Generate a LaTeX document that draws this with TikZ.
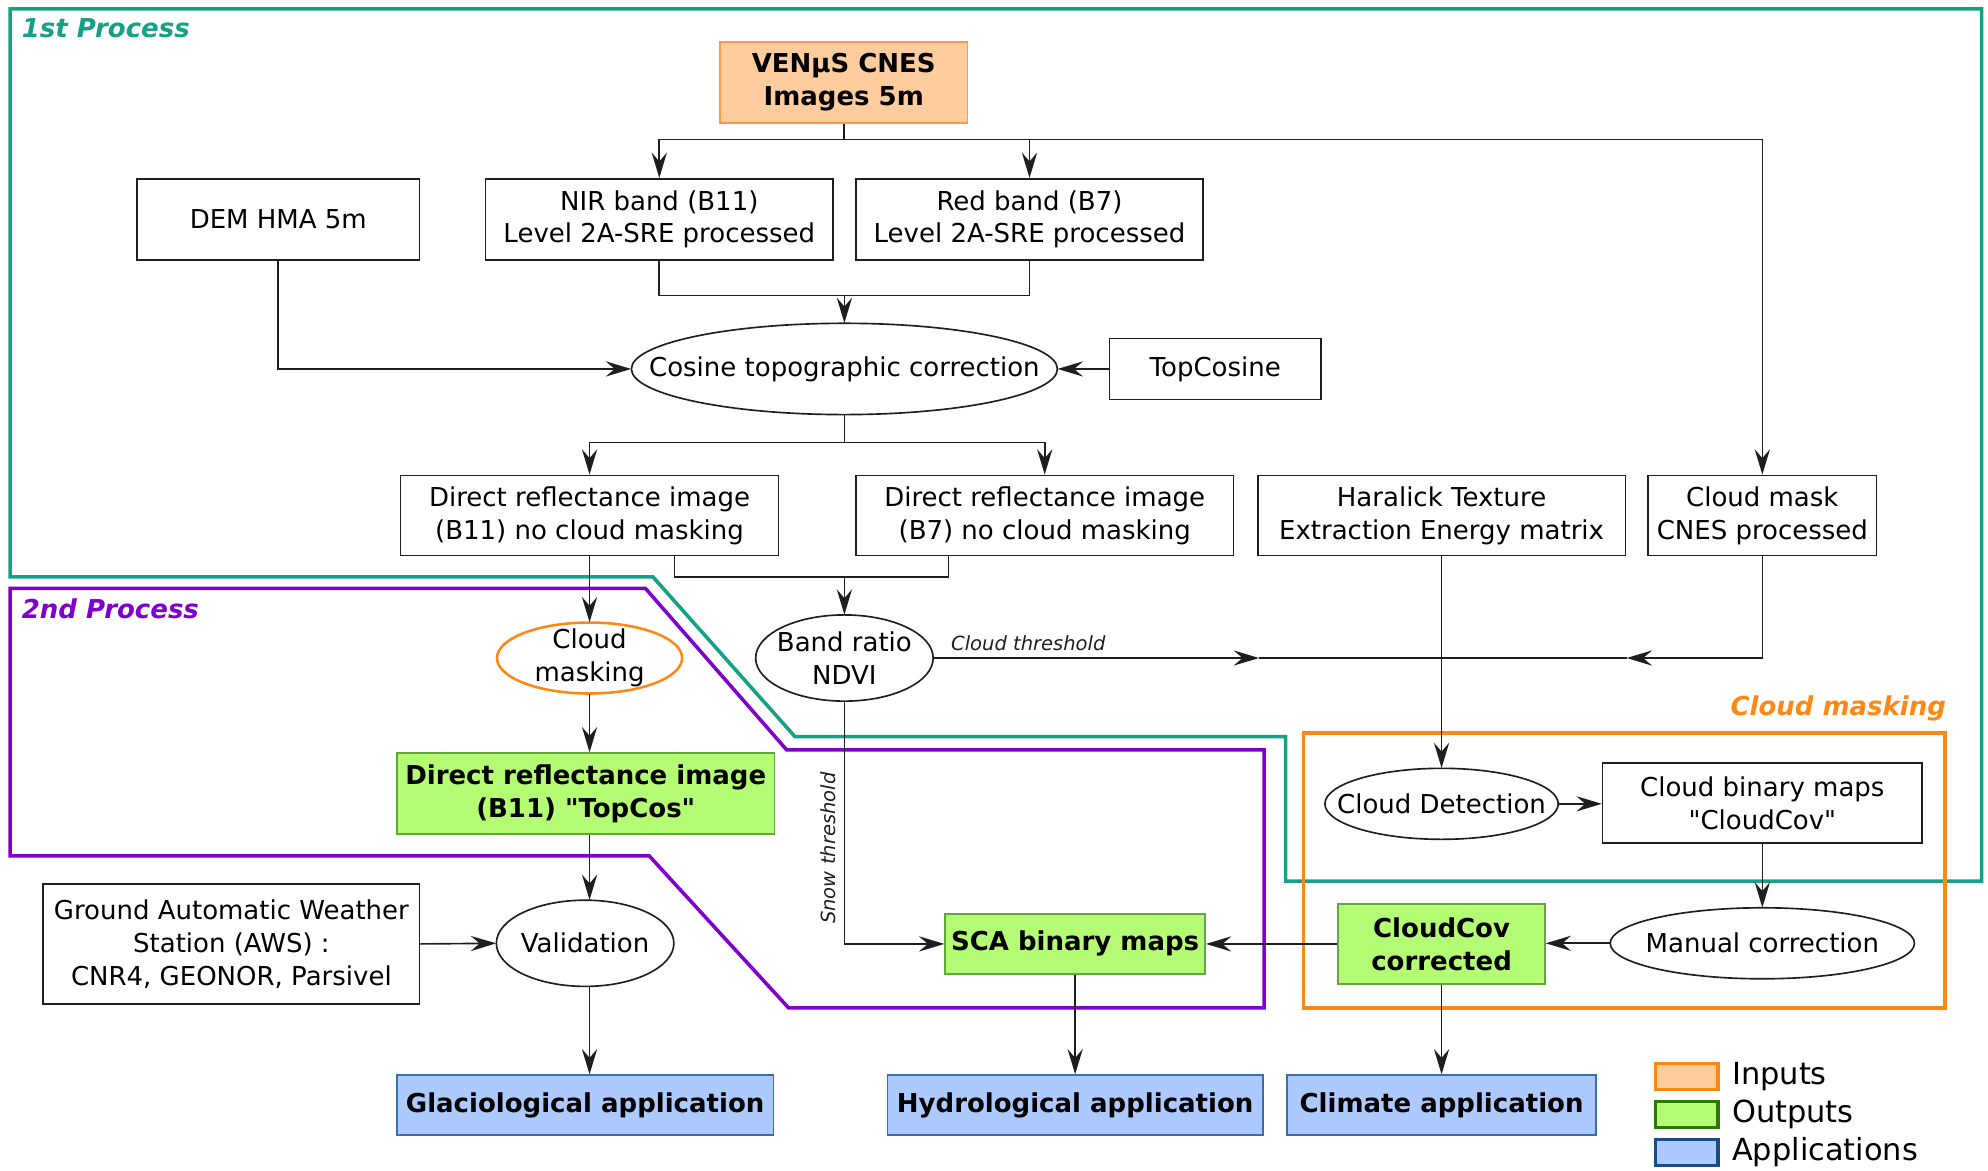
\documentclass[tikz,border=0pt]{standalone}
\usepackage{fontspec}
\setmainfont{DejaVu Sans}
\usetikzlibrary{arrows.meta}
\definecolor{teal1}{RGB}{22,160,133}
\definecolor{purp}{RGB}{127,0,204}
\definecolor{orng}{RGB}{255,136,20}
\definecolor{peach}{RGB}{255,204,158}
\definecolor{peachb}{RGB}{255,150,80}
\definecolor{grn}{RGB}{180,252,115}
\definecolor{grnb}{RGB}{100,165,60}
\definecolor{grnleg}{RGB}{45,120,0}
\definecolor{blu}{RGB}{172,202,255}
\definecolor{blub}{RGB}{60,110,170}
\definecolor{bluleg}{RGB}{25,75,135}
\definecolor{lineg}{RGB}{30,30,30}
% ellipse node: name, centre, x radius, y radius, extra style, text
\newcommand\ellnode[6]{%
  \draw[ellshape,#5] (#2) ellipse [x radius=#3pt, y radius=#4pt];
  \node[elltext, minimum width=2*#3, minimum height=2*#4] (#1) at (#2) {#6};}
\begin{document}
\begin{tikzpicture}[x=1pt,y=-1pt,
  font=\fontsize{20.5}{26}\selectfont,
  box/.style={draw=lineg, fill=white, line width=1.3pt, rectangle, align=center, inner sep=0pt},
  ellshape/.style={draw=lineg, fill=white, line width=1.3pt},
  elltext/.style={rectangle, align=center, inner sep=0pt},
  inbox/.style={box, draw=peachb, fill=peach, font=\fontsize{20.5}{26}\selectfont\bfseries},
  outbox/.style={box, draw=grnb, fill=grn, font=\fontsize{20.5}{26}\selectfont\bfseries},
  appbox/.style={box, draw=blub, fill=blu, font=\fontsize{20.5}{26}\selectfont\bfseries},
  arr/.style={draw=lineg, line width=1.3pt, -{Stealth[length=20pt,width=12pt,inset=7pt]}},
  ln/.style={draw=lineg, line width=1.3pt},
  frame/.style={line width=2.8pt, line join=miter},
  flabel/.style={font=\fontsize{20.5}{26}\selectfont\bfseries\itshape, inner sep=0pt},
  thr/.style={font=\fontsize{15.4}{18}\selectfont\itshape, text=lineg, inner sep=0pt},
  legsq/.style={rectangle, line width=2.5pt, minimum width=49pt, minimum height=20pt, inner sep=0pt},
  legtx/.style={font=\fontsize{24}{30}\selectfont, anchor=west, inner sep=0pt}
]
\useasboundingbox (0,0) rectangle (1568,923);

% frames
\draw[frame, teal1] (8,7) -- (1563,7) -- (1563,695) -- (1014,695) -- (1014,581) -- (627,581) -- (515,455) -- (8,455) -- cycle;
\draw[frame, purp] (8,464) -- (509,464) -- (620.5,591.5) -- (997,591.5) -- (997,795) -- (622,795) -- (512,675) -- (8,675) -- cycle;
\draw[frame, orng] (1028,578) rectangle (1534,795);
\node[flabel, text=teal1, anchor=west] (l1) at (17,22) {1st Process};
\node[flabel, text=purp, anchor=west] (l2) at (17,480) {2nd Process};
\node[flabel, text=orng, anchor=east] (l3) at (1535,559) {Cloud masking};

% nodes
\node[inbox, minimum width=195, minimum height=64] (venus) at (665.5,65) {VENµS CNES\\Images 5m};
\node[box, minimum width=223, minimum height=64] (dem) at (219.5,173) {DEM HMA 5m};
\node[box, minimum width=274, minimum height=64] (nir) at (520,173) {NIR band (B11)\\Level 2A-SRE processed};
\node[box, minimum width=274, minimum height=64] (red) at (812,173) {Red band (B7)\\Level 2A-SRE processed};
\ellnode{cos}{666,291}{168}{36}{}{Cosine topographic correction}
\node[box, minimum width=167, minimum height=48] (topc) at (958.5,291) {TopCosine};
\node[box, minimum width=298, minimum height=63] (d11) at (465,406.5) {Direct reflectance image\\(B11) no cloud masking};
\node[box, minimum width=298, minimum height=63] (d7) at (824,406.5) {Direct reflectance image\\(B7) no cloud masking};
\node[box, minimum width=290, minimum height=63] (har) at (1137,406.5) {Haralick Texture\\Extraction Energy matrix};
\node[box, minimum width=180, minimum height=63] (cmask) at (1390,406.5) {Cloud mask\\CNES processed};
\ellnode{cmk}{465,519}{73}{28}{draw=orng, line width=2pt}{Cloud\\masking}
\ellnode{ndvi}{666,519}{70}{34}{}{Band ratio\\NDVI}
\node[outbox, minimum width=298, minimum height=64] (topcos) at (462,626) {Direct reflectance image\\(B11) \textquotedbl TopCos\textquotedbl};
\node[box, minimum width=297, minimum height=95] (aws) at (182.5,744.5) {Ground Automatic Weather\\Station (AWS) :\\CNR4, GEONOR, Parsivel};
\ellnode{valid}{461.5,744}{70}{34}{}{Validation}
\node[outbox, minimum width=205, minimum height=47] (sca) at (848,744.5) {SCA binary maps};
\node[outbox, minimum width=163, minimum height=63] (ccov) at (1137,744.5) {CloudCov\\corrected};
\ellnode{man}{1390,744}{120}{28}{}{Manual correction}
\ellnode{cdet}{1137,634}{92}{28}{}{Cloud Detection}
\node[box, minimum width=252, minimum height=63] (cbin) at (1390,633.5) {Cloud binary maps\\\textquotedbl CloudCov\textquotedbl};
\node[appbox, minimum width=297, minimum height=47] (glac) at (461.5,871.5) {Glaciological application};
\node[appbox, minimum width=296, minimum height=47] (hyd) at (848,871.5) {Hydrological application};
\node[appbox, minimum width=244, minimum height=47] (clim) at (1137,871.5) {Climate application};

% legend
\node[legsq, draw=orng, fill=peach] (lg1) at (1330.5,849) {};
\node[legsq, draw=grnleg, fill=grn] (lg2) at (1330.5,879) {};
\node[legsq, draw=bluleg, fill=blu] (lg3) at (1330.5,909) {};
\node[legtx] (lt1) at (1366,849) {Inputs};
\node[legtx] (lt2) at (1366,879) {Outputs};
\node[legtx] (lt3) at (1366,909) {Applications};

% connectors
\coordinate (vj) at (665.5,110);
\draw[ln] (venus.south) -- (vj);
\draw[arr] (vj) -| (nir.north);
\draw[arr] (vj) -| (red.north);
\draw[arr] (vj) -| (cmask.north);

\coordinate (nj) at (666,233);
\draw[ln] (nir.south) |- (nj);
\draw[ln] (red.south) |- (nj);
\draw[arr] (nj) -- (cos.north);

\draw[arr] (dem.south) |- (cos.west);
\draw[arr] (topc.west) -- (cos.east);

\coordinate (cj) at (666,349);
\draw[ln] (cos.south) -- (cj);
\draw[arr] (cj) -| (d11.north);
\draw[arr] (cj) -| (d7.north);

\draw[arr] (d11.south) -- (cmk.north);
\coordinate (b1) at (532,455);
\coordinate (b2) at (748,455);
\draw[ln] (b1 |- d11.south) -- (b1) -- (b2) -- (b2 |- d7.south);
\draw[arr] (ndvi.north |- b1) -- (ndvi.north);

\draw[arr] (cmk.south) -- (cmk.south |- topcos.north);
\draw[arr] (cmk.south |- topcos.south) -- (cmk.south |- valid.north);
\draw[arr] (aws.east) -- (valid.west);
\draw[arr] (cmk.south |- valid.south) -- (cmk.south |- glac.north);

\coordinate (ct1) at (993,519);
\coordinate (jn) at (1137,519);
\coordinate (ct2) at (1283,519);
\draw[arr] (ndvi.east) -- (ct1);
\draw[ln] (ct1) -- (jn);
\draw[arr] (cmask.south) |- (ct2);
\draw[ln] (ct2) -- (jn);
\node[thr, anchor=west] (cthr) at (750,507) {Cloud threshold};

\draw[arr] (har.south) -- (cdet.north);
\draw[arr] (ndvi.south) |- (sca.west);
\node[thr, rotate=90] (sthr) at (653,669) {Snow threshold};

\draw[arr] (cdet.east) -- (cbin.west |- cdet.east);
\draw[arr] (cbin.south) -- (man.north);
\draw[arr] (man.west) -- (ccov.east |- man.west);
\draw[arr] (ccov.west) -- (sca.east);
\draw[arr] (sca.south) -- (sca.south |- hyd.north);
\draw[arr] (ccov.south) -- (ccov.south |- clim.north);
\end{tikzpicture}
\end{document}
